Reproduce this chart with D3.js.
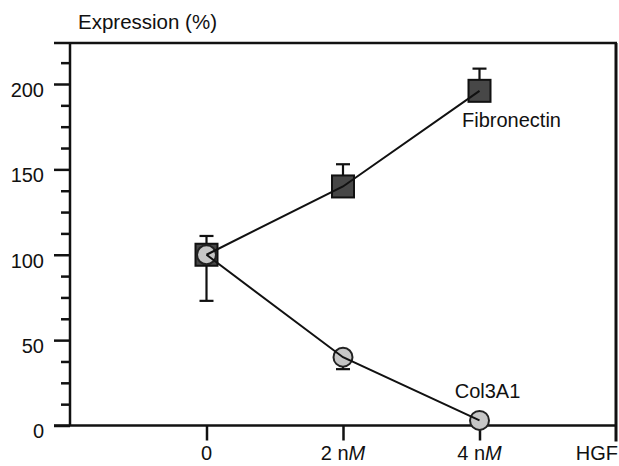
<!DOCTYPE html>
<html>
<head>
<meta charset="utf-8">
<script src="https://cdn.jsdelivr.net/npm/d3@7"></script>
<style>
  html, body { margin: 0; padding: 0; background: #fff; }
  svg { display: block; }
  text { font-family: "Liberation Sans", Arial, Helvetica, sans-serif; fill: #111; }
</style>
</head>
<body>
<svg id="chart" width="619" height="466"></svg>
<script>
// HGF dose (nM) and relative expression (%)
const doses = [0, 2, 4];
const fibronectin = [100, 140, 196];
const fibronectinErrUp = [11, 13, 13];
const col3a1 = [100, 40, 3];
const col3a1ErrDown = [27, 7, 3];

const xTickValues = [0, 2, 4, 6];
const xTickLabels = [["0", ""], ["2 n", "M"], ["4 n", "M"], ["HGF", ""]];
const yMajorTicks = [0, 50, 100, 150, 200];
const yMinorTicks = [12.5, 25, 37.5, 62.5, 75, 87.5, 112.5, 125, 137.5, 162.5, 175, 187.5, 212.5];

const svg = d3.select("#chart");

const x = d3.scaleLinear().domain([-2, 6]).range([70, 616]);
const y = d3.scaleLinear().domain([0, 200]).range([425.5, 84]);

const frameTop = 43;
const ink = "#111";

// minor y ticks
svg.append("g")
  .attr("transform", "translate(70,0)")
  .call(d3.axisLeft(y).tickValues(yMinorTicks).tickSize(9).tickFormat(""))
  .call(g => g.select(".domain").remove())
  .call(g => g.selectAll("line").attr("stroke", ink).attr("stroke-width", 2.5));

// major y ticks with labels
svg.append("g")
  .attr("transform", "translate(70,0)")
  .call(d3.axisLeft(y).tickValues(yMajorTicks).tickSize(16).tickPadding(10).tickFormat(d3.format("d")))
  .call(g => g.select(".domain").remove())
  .call(g => g.selectAll("line").attr("stroke", ink).attr("stroke-width", 2.5))
  .call(g => g.selectAll("text")
    .attr("font-size", 20)
    .attr("dy", "0.62em")
    .style("font-family", "'Liberation Sans', Arial, sans-serif")
    .attr("fill", ink));

// x ticks (downward)
svg.append("g")
  .attr("transform", `translate(0,${y(0)})`)
  .call(d3.axisBottom(x).tickValues(doses).tickSize(15).tickFormat(""))
  .call(g => g.select(".domain").remove())
  .call(g => g.selectAll("line").attr("stroke", ink).attr("stroke-width", 2.5));

// x tick labels, with the unit M in italics
svg.append("g").selectAll("text")
  .data(xTickValues)
  .join("text")
  .attr("x", (d, i) => i === 3 ? 618 : x(d))
  .attr("y", 460)
  .attr("font-size", 20)
  .attr("text-anchor", (d, i) => i === 3 ? "end" : "middle")
  .each(function(d, i) {
    const t = d3.select(this);
    t.append("tspan").text(xTickLabels[i][0]);
    if (xTickLabels[i][1]) t.append("tspan").attr("font-style", "italic").text(xTickLabels[i][1]);
  });

// frame: left axis, bottom axis, top and right borders
const frame = svg.append("g").attr("stroke", ink).attr("fill", "none");
frame.append("line").attr("x1", 70).attr("x2", 70).attr("y1", frameTop).attr("y2", y(0)).attr("stroke-width", 2.5);
frame.append("line").attr("x1", 54).attr("x2", 617).attr("y1", y(0)).attr("y2", y(0)).attr("stroke-width", 2.5);
frame.append("line").attr("x1", 54).attr("x2", 617).attr("y1", frameTop).attr("y2", frameTop).attr("stroke-width", 2.5);
frame.append("line").attr("x1", 616).attr("x2", 616).attr("y1", frameTop).attr("y2", y(0) + 16).attr("stroke-width", 3);

// axis title
svg.append("text")
  .attr("x", 78)
  .attr("y", 29)
  .attr("font-size", 20.5)
  .text("Expression (%)");

// error bars
const capHalf = 7;
const errG = svg.append("g").attr("stroke", ink).attr("stroke-width", 2.2);
doses.forEach((d, i) => {
  const cx = x(d);
  const top = y(fibronectin[i] + fibronectinErrUp[i]);
  errG.append("line").attr("x1", cx).attr("x2", cx).attr("y1", y(fibronectin[i])).attr("y2", top);
  errG.append("line").attr("x1", cx - capHalf).attr("x2", cx + capHalf).attr("y1", top).attr("y2", top);
  const bot = y(col3a1[i] - col3a1ErrDown[i]);
  errG.append("line").attr("x1", cx).attr("x2", cx).attr("y1", y(col3a1[i])).attr("y2", bot);
  errG.append("line").attr("x1", cx - capHalf).attr("x2", cx + capHalf).attr("y1", bot).attr("y2", bot);
});

// Fibronectin markers (dark squares)
const sq = 22;
svg.append("g").selectAll("rect")
  .data(doses)
  .join("rect")
  .attr("x", d => x(d) - sq / 2)
  .attr("y", (d, i) => y(fibronectin[i]) - sq / 2)
  .attr("width", sq)
  .attr("height", sq)
  .attr("fill", "#474747")
  .attr("stroke", ink)
  .attr("stroke-width", 2);

// Col3A1 markers (light circles)
svg.append("g").selectAll("circle")
  .data(doses)
  .join("circle")
  .attr("cx", d => x(d))
  .attr("cy", (d, i) => y(col3a1[i]))
  .attr("r", 9.5)
  .attr("fill", "#c6c6c6")
  .attr("stroke", "#222")
  .attr("stroke-width", 2);

// connecting lines
const line = d3.line().x(p => x(p[0])).y(p => y(p[1]));
svg.append("path")
  .attr("d", line(doses.map((d, i) => [d, fibronectin[i]])))
  .attr("fill", "none").attr("stroke", ink).attr("stroke-width", 2);
svg.append("path")
  .attr("d", line(doses.map((d, i) => [d, col3a1[i]])))
  .attr("fill", "none").attr("stroke", ink).attr("stroke-width", 2);

// series labels
svg.append("text")
  .attr("x", x(4) + 32)
  .attr("y", y(fibronectin[2]) + 36)
  .attr("font-size", 20)
  .attr("text-anchor", "middle")
  .text("Fibronectin");
svg.append("text")
  .attr("x", x(4) + 8)
  .attr("y", y(col3a1[2]) - 22)
  .attr("font-size", 20)
  .attr("text-anchor", "middle")
  .text("Col3A1");
</script>
</body>
</html>
